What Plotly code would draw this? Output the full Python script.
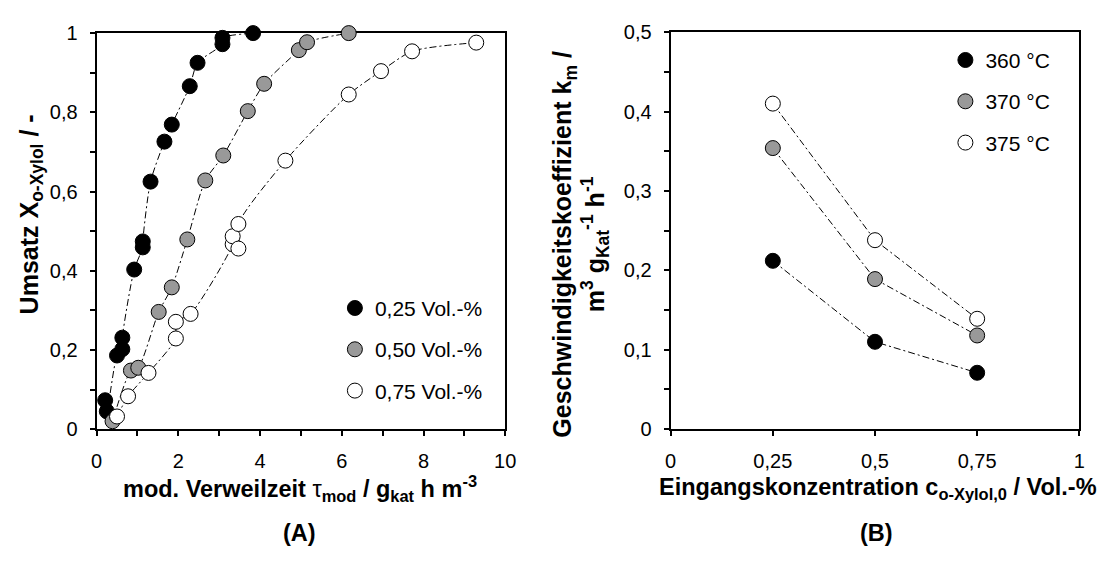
import plotly.graph_objects as go

# ---- Panel A: conversion vs. modified residence time ----
tau_025 = [0.21, 0.25, 0.50, 0.63, 0.63, 0.92, 1.13, 1.13, 1.32, 1.66, 1.84, 2.28, 2.47, 3.08, 3.08, 3.83]
X_025 = [0.073, 0.045, 0.186, 0.202, 0.231, 0.403, 0.459, 0.474, 0.625, 0.726, 0.769, 0.866, 0.925, 0.972, 0.988, 1.0]

tau_050 = [0.39, 0.84, 1.02, 1.52, 1.84, 2.22, 2.66, 3.10, 3.70, 4.10, 4.95, 5.15, 6.17]
X_050 = [0.020, 0.148, 0.155, 0.296, 0.358, 0.479, 0.628, 0.691, 0.803, 0.872, 0.957, 0.977, 1.0]

tau_075 = [0.50, 0.77, 1.27, 1.94, 1.94, 2.30, 3.33, 3.33, 3.47, 3.47, 4.62, 6.17, 6.96, 7.72, 9.29]
X_075 = [0.032, 0.083, 0.142, 0.229, 0.271, 0.291, 0.467, 0.487, 0.456, 0.518, 0.678, 0.845, 0.904, 0.954, 0.976]

labels_A = ["0,25 Vol.-%", "0,50 Vol.-%", "0,75 Vol.-%"]

# ---- Panel B: rate coefficient vs. inlet concentration ----
c_in = [0.25, 0.5, 0.75]
k_360 = [0.212, 0.110, 0.071]
k_370 = [0.354, 0.189, 0.118]
k_375 = [0.410, 0.238, 0.139]
labels_B = ["360 °C", "370 °C", "375 °C"]

fills = ["#000000", "#999999", "#ffffff"]

FONT = "Liberation Sans, Arial, sans-serif"
DASH = "7px,3px,2px,3px"
W, H = 1111, 568


def px_x(p):
    return p / W


def px_y(p):
    return 1 - p / H


fig = go.Figure()

series_A = [(tau_025, X_025), (tau_050, X_050), (tau_075, X_075)]
for (xs, ys), fill, name in zip(series_A, fills, labels_A):
    pts = sorted(zip(xs, ys))
    fig.add_trace(go.Scatter(
        x=[p[0] for p in pts], y=[p[1] for p in pts], mode="lines",
        line=dict(color="black", width=1, dash=DASH, shape="spline", smoothing=0.7),
        showlegend=False, hoverinfo="skip", xaxis="x", yaxis="y", cliponaxis=False))
for (xs, ys), fill, name in zip(series_A, fills, labels_A):
    fig.add_trace(go.Scatter(
        x=xs, y=ys, mode="markers", name=name, legend="legend", legendgroup=name,
        marker=dict(size=15, color=fill, line=dict(color="black", width=1)),
        xaxis="x", yaxis="y", cliponaxis=False))

series_B = [k_360, k_370, k_375]
for ks in series_B:
    fig.add_trace(go.Scatter(
        x=c_in, y=ks, mode="lines",
        line=dict(color="black", width=1, dash=DASH),
        showlegend=False, hoverinfo="skip", xaxis="x2", yaxis="y2"))
for ks, fill, name in zip(series_B, fills, labels_B):
    fig.add_trace(go.Scatter(
        x=c_in, y=ks, mode="markers", name=name, legend="legend2", legendgroup=name,
        marker=dict(size=15, color=fill, line=dict(color="black", width=1)),
        xaxis="x2", yaxis="y2", cliponaxis=False))

axis_common = dict(
    showgrid=False, zeroline=False, showline=True, linecolor="black", linewidth=2,
    mirror=True, ticks="outside", ticklen=5, tickwidth=2, tickcolor="black",
    tickfont=dict(family=FONT, size=20, color="black"), layer="below traces",
)
minor_common = dict(ticks="outside", ticklen=5, tickwidth=2, tickcolor="black", showgrid=False)

fig.update_layout(
    width=W, height=H,
    margin=dict(l=0, r=0, t=0, b=0),
    paper_bgcolor="white", plot_bgcolor="white",
    separators=",.",
    font=dict(family=FONT, color="black"),
    xaxis=dict(domain=[px_x(92), px_x(507)], range=[0, 10], tickmode="linear", tick0=0, dtick=2,
               minor=dict(dtick=1, **minor_common), anchor="y", ticklabelstandoff=8, **axis_common),
    yaxis=dict(domain=[px_y(435), px_y(23)], range=[0, 1], tickmode="linear", tick0=0, dtick=0.2,
               minor=dict(dtick=0.1, **minor_common), anchor="x", ticklabelstandoff=8, **axis_common),
    xaxis2=dict(domain=[px_x(675), px_x(1090)], range=[0, 1], tickmode="linear", tick0=0, dtick=0.25,
                anchor="y2", ticklabelstandoff=8, **axis_common),
    yaxis2=dict(domain=[px_y(435), px_y(22)], range=[0, 0.5], tickmode="linear", tick0=0, dtick=0.1,
                minor=dict(dtick=0.05, **minor_common), anchor="x2", ticklabelstandoff=8, **axis_common),
    legend=dict(x=px_x(334), y=px_y(288), xanchor="left", yanchor="top",
                bgcolor="rgba(0,0,0,0)", font=dict(family=FONT, size=21, color="black"),
                tracegroupgap=11, itemclick=False, itemdoubleclick=False),
    legend2=dict(x=px_x(954), y=px_y(30), xanchor="left", yanchor="top",
                 bgcolor="rgba(0,0,0,0)", font=dict(family=FONT, size=21, color="black"),
                 tracegroupgap=11, itemclick=False, itemdoubleclick=False),
)

ytitle_font = dict(family=FONT, size=25, color="black", weight="bold")
xtitle_font = dict(family=FONT, size=23.5, color="black", weight="bold")
annotations = [
    dict(text="Umsatz X<sub>o-Xylol</sub> / -", x=px_x(25), y=px_y(212), textangle=-90, font=ytitle_font),
    dict(text="Geschwindigkeitskoeffizient k<sub>m</sub> /<br>m<sup>3</sup> g<sub>Kat</sub><sup>-1</sup> h<sup>-1</sup>",
         x=px_x(584), y=px_y(243), textangle=-90, font=ytitle_font),
    dict(text='mod. Verweilzeit <span style="font-weight:normal">τ</span><sub>mod</sub> / g<sub>kat</sub> h m<sup>-3</sup>',
         x=px_x(299), y=px_y(497), font=xtitle_font),
    dict(text="Eingangskonzentration c<sub>o-Xylol,0</sub> / Vol.-%", x=px_x(886), y=px_y(497), font=xtitle_font),
    dict(text="(A)", x=px_x(298), y=px_y(543), font=xtitle_font),
    dict(text="(B)", x=px_x(884), y=px_y(543), font=xtitle_font),
]
for a in annotations:
    fig.add_annotation(xref="paper", yref="paper", showarrow=False,
                       xanchor="center", yanchor="middle", **a)

fig.write_html("out.html")
